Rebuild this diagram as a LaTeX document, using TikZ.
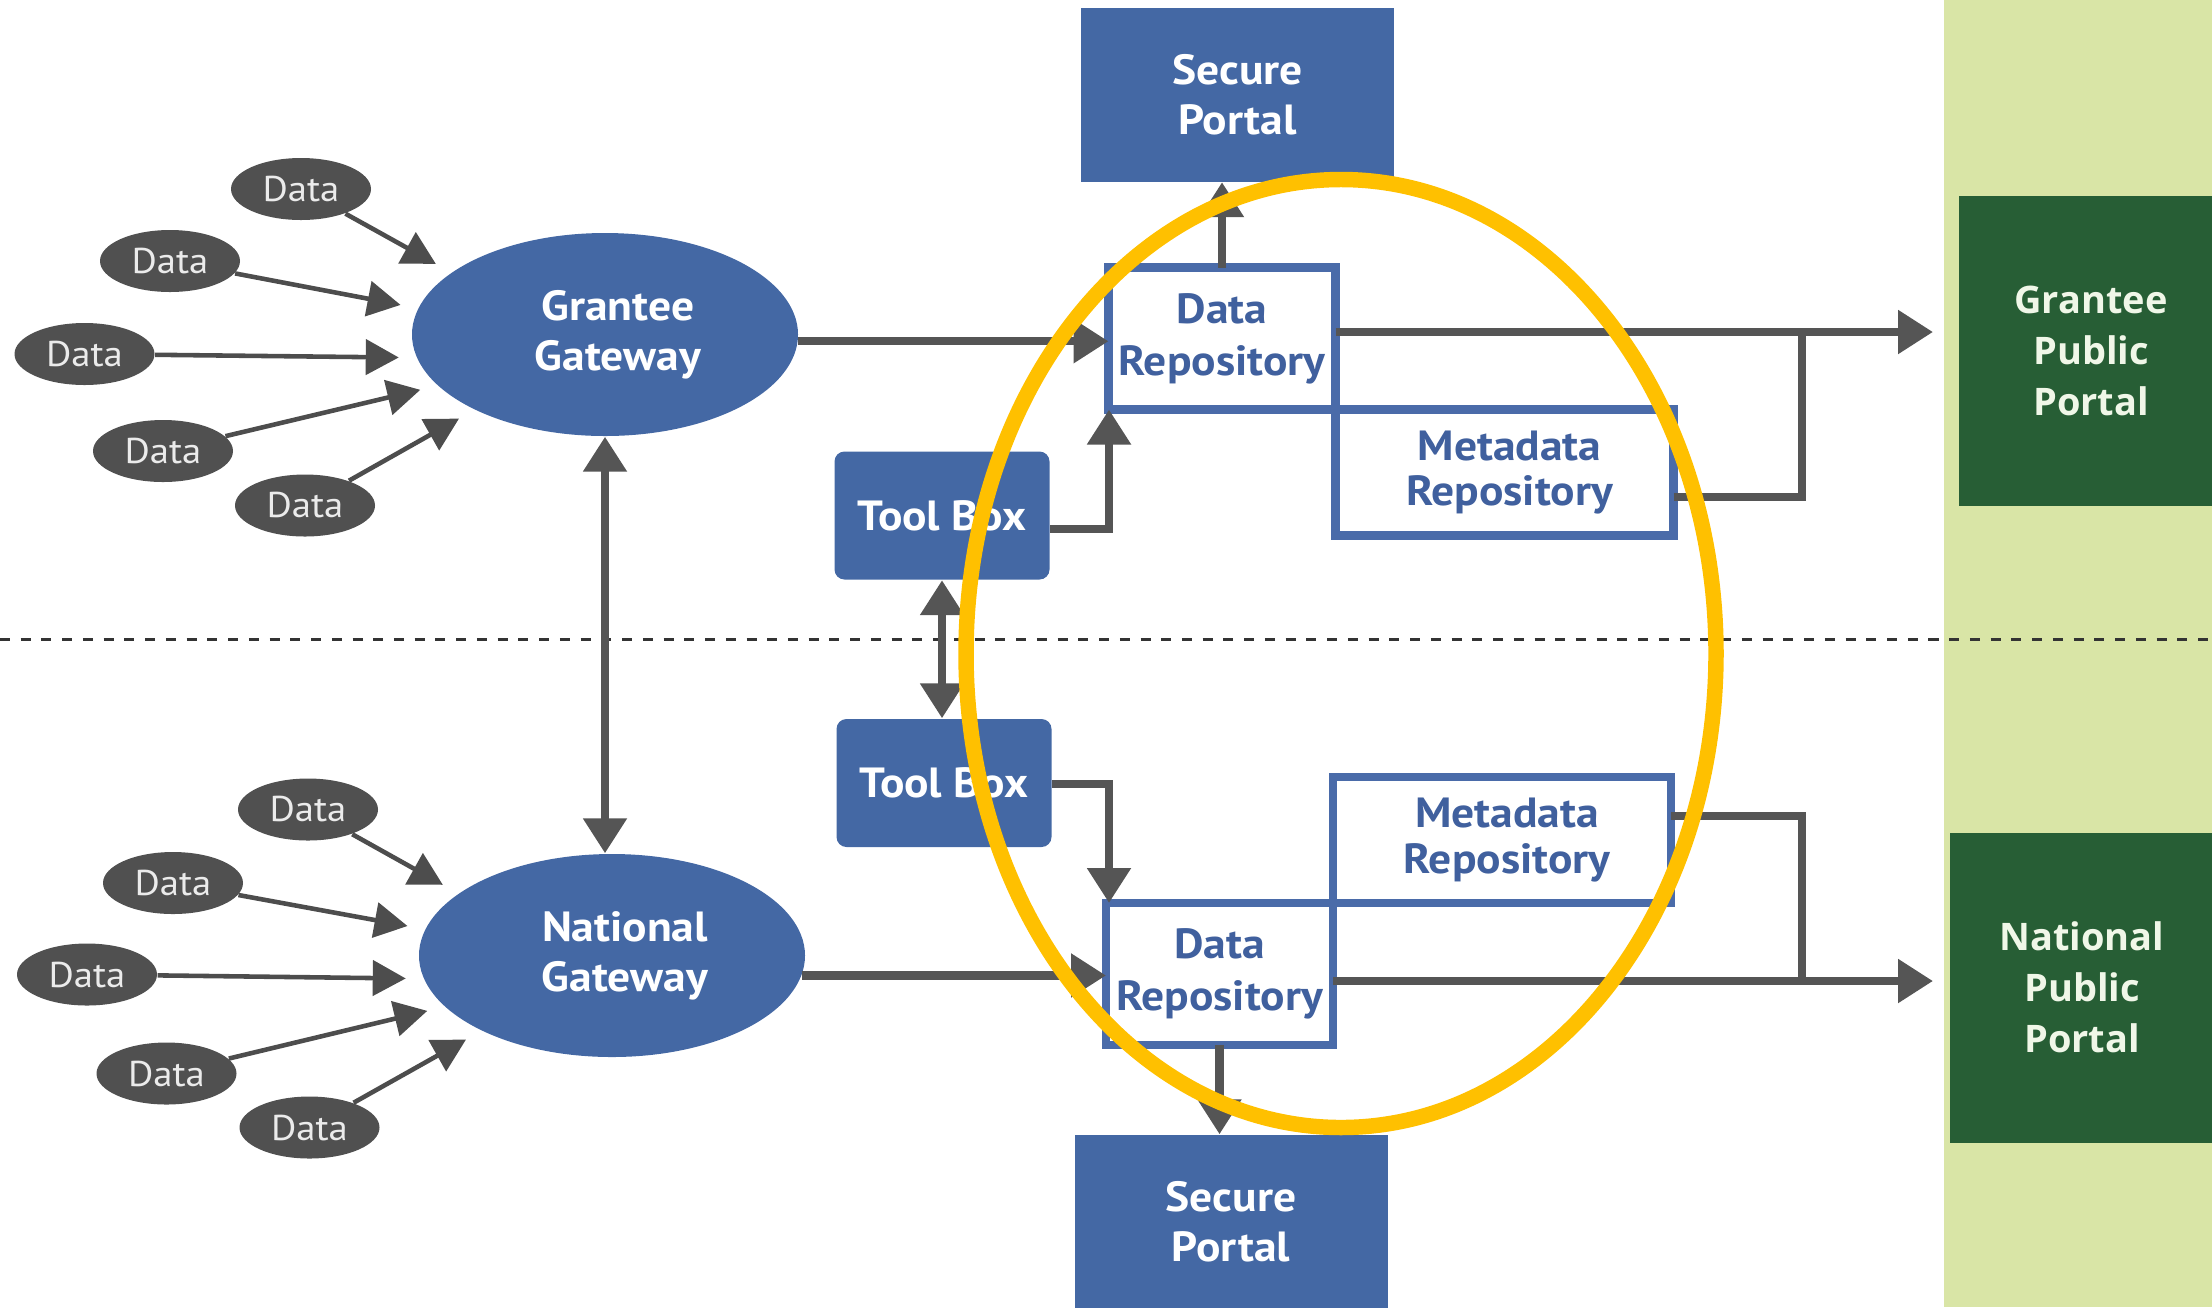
\documentclass[tikz,border=0pt]{standalone}
\usepackage{fontspec}
\setmainfont{PT Sans}[FakeStretch = 1.08]
\newfontfamily\portalfont{Open Sans}
\usetikzlibrary{shapes.geometric,arrows.meta}
\definecolor{boxblue}{HTML}{4468A4}
\definecolor{repoblue}{HTML}{4A6BA9}
\definecolor{repotext}{HTML}{40609E}
\definecolor{linkgray}{HTML}{555555}
\definecolor{feedgray}{HTML}{4D4D4D}
\definecolor{datagray}{HTML}{505050}
\definecolor{datatext}{HTML}{EBEBEB}
\definecolor{darkgreen}{HTML}{275E35}
\definecolor{palegreen}{HTML}{D9E5A6}
\definecolor{portaltext}{HTML}{F0F7E8}
\definecolor{ringgold}{HTML}{FFC000}
\begin{document}
\begin{tikzpicture}[
  >={Triangle[length = 3.5mm, width = 4.2mm]},
  gate/.style = {ellipse, fill = boxblue, text = white, minimum width = 3.86cm, minimum height = 2.03cm, inner sep = 0, align = center, font = \bfseries\fontsize{12}{14.2}\selectfont},
  datum/.style = {ellipse, fill = datagray, text = datatext, minimum width = 1.4cm, minimum height = 0.62cm, inner sep = 0, font = \fontsize{10.2}{12}\selectfont},
  secure/.style = {fill = boxblue, text = white, minimum width = 3.13cm, minimum height = 1.74cm, align = center, font = \bfseries\fontsize{12}{14.2}\selectfont},
  toolbox/.style = {fill = boxblue, text = white, rounded corners = 0.1cm, minimum width = 2.15cm, minimum height = 1.28cm, font = \bfseries\fontsize{12}{14.2}\selectfont},
  repo/.style = {draw = repoblue, line width = 2.4pt, fill = white, text = repotext, outer sep = 0, inner sep = 0, align = center, font = \bfseries\fontsize{12}{14.8}\selectfont},
  datarepo/.style = {repo, minimum width = 2.27cm, minimum height = 1.42cm},
  metarepo/.style = {repo, minimum width = 3.38cm, minimum height = 1.26cm, font = \bfseries\fontsize{12}{13}\selectfont},
  public/.style = {fill = darkgreen, text = portaltext, minimum width = 2.64cm, minimum height = 3.1cm, align = center, font = \portalfont\bfseries\fontsize{10.8}{14.5}\selectfont},
  link/.style = {draw = linkgray, line width = 2.4pt, ->},
  both/.style = {draw = linkgray, line width = 2.4pt, <->},
  bar/.style = {draw = linkgray, line width = 2.4pt},
  feed/.style = {draw = feedgray, line width = 1.3pt, -{Triangle[length = 3.3mm, width = 3.5mm]}, shorten > = 5pt},
  ]
\useasboundingbox(0,0)rectangle(22.12,-13.07);
\fill[palegreen](19.44,0)rectangle(22.12,-13.07);
\draw[black!80, line width = 0.9pt, dash pattern = on 2.85pt off 3.05pt](0,-6.395)--(22.12,-6.395);

\node[gate](GG)at(6.05,-3.345){\hspace*{0.26cm}Grantee\\\hspace*{0.26cm}Gateway};
\node[gate](NG)at(6.12,-9.555){\hspace*{0.26cm}National\\\hspace*{0.26cm}Gateway};

\node[datum](DA1)at(3.01,-1.89){Data};
\node[datum](DA2)at(1.70,-2.61){Data};
\node[datum](DA3)at(0.845,-3.54){Data};
\node[datum](DA4)at(1.63,-4.51){Data};
\node[datum](DA5)at(3.05,-5.055){Data};
\node[datum](DB1)at(3.08,-8.095){Data};
\node[datum](DB2)at(1.73,-8.83){Data};
\node[datum](DB3)at(0.87,-9.745){Data};
\node[datum](DB4)at(1.665,-10.735){Data};
\node[datum](DB5)at(3.095,-11.275){Data};

\node[secure](SP1)at(12.375,-0.945){Secure\\Portal};
\node[secure](SP2)at(12.31,-12.22){Secure\\Portal};
\node[toolbox](TB1)at(9.42,-5.155){Tool Box};
\node[toolbox](TB2)at(9.44,-7.83){Tool Box};
\node[datarepo](DR1)at(12.22,-3.385){Data\\Repository};
\node[metarepo, anchor = north west](MR1)at(DR1.south east){\hspace*{0.1cm}Metadata\\\hspace*{0.1cm}Repository};
\node[datarepo](DR2)at(12.195,-9.74){Data\\Repository};
\node[metarepo, anchor = south west](MR2)at(DR2.north east){\hspace*{0.1cm}Metadata\\\hspace*{0.1cm}Repository};
\node[public](GPP)at(20.91,-3.51){Grantee\\Public\\Portal};
\node[public](NPP)at(20.82,-9.875){National\\Public\\Portal};

\draw[feed](DA1)--(GG.158);
\draw[feed](DA2)--(GG.172);
\draw[feed](DA3)--(GG.187);
\draw[feed](DA4)--(GG.197);
\draw[feed](DA5)--(GG.210);
\draw[feed](DB1)--(NG.158);
\draw[feed](DB2)--(NG.172);
\draw[feed](DB3)--(NG.187);
\draw[feed](DB4)--(NG.197);
\draw[feed](DB5)--(NG.210);

\coordinate(J1)at(18.02,-3.32);
\coordinate(J2)at(18.02,-4.97);
\coordinate(G1)at(19.33,-3.32);
\coordinate(J3)at(18.02,-8.16);
\coordinate(J4)at(18.02,-9.81);
\coordinate(G2)at(19.33,-9.81);
\coordinate(T1)at(11.09,-5.29);
\coordinate(T2)at(11.09,-7.84);

\draw[link](GG.-2)--(GG.-2 -| DR1.west);
\draw[link](NG.-6.5)--(NG.-6.5 -| DR2.west);
\draw[both](GG.south)--(GG.south |- NG.north);
\draw[both](TB1.south)--(TB1.south |- TB2.north);
\draw[link](DR1.north)--(DR1.north |- SP1.south);
\draw[link](DR2.south)--(DR2.south |- SP2.north);
\draw[link](TB1.east |- T1)--(T1)--(T1 |- DR1.south);
\draw[link](TB2.east |- T2)--(T2)--(T2 |- DR2.north);
\draw[link](DR1.east |- G1)--(G1);
\draw[bar](MR1.east |- J2)--(J2)--(J1);
\draw[link](DR2.east |- G2)--(G2);
\draw[bar](MR2.east |- J3)--(J3)--(J4);

\draw[ringgold, line width = 4.4pt](13.41,-6.535)ellipse[x radius = 3.75, y radius = 4.74];
\end{tikzpicture}
\end{document}
